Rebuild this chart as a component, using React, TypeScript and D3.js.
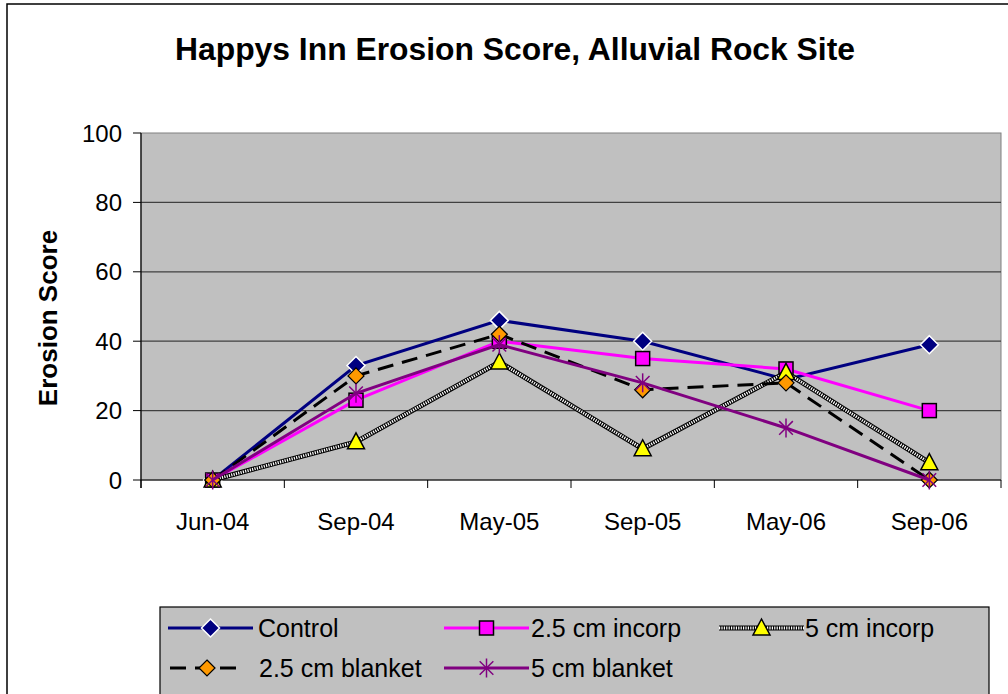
import React from "react";
import * as d3 from "d3";

const categories = ["Jun-04", "Sep-04", "May-05", "Sep-05", "May-06", "Sep-06"];
const control = [0, 33, 46, 40, 29, 39];
const incorp25 = [0, 23, 40, 35, 32, 20];
const incorp5 = [0, 11, 34, 9, 31, 5];
const blanket25 = [0, 30, 42, 26, 28, 0];
const blanket5 = [0, 25, 39, 28, 15, 0];
const yTicks = [0, 20, 40, 60, 80, 100];

const FONT = "'Liberation Sans', Arial, sans-serif";

type Series = { name: string; values: number[]; key: string };
const series: Series[] = [
  { name: "Control", values: control, key: "control" },
  { name: "2.5 cm incorp", values: incorp25, key: "incorp25" },
  { name: "5 cm incorp", values: incorp5, key: "incorp5" },
  { name: "2.5 cm blanket", values: blanket25, key: "blanket25" },
  { name: "5 cm blanket", values: blanket5, key: "blanket5" },
];

function Marker({ k, x, y }: { k: string; x: number; y: number }) {
  if (k === "control") {
    const s = 9;
    return (
      <path d={`M${x},${y - s}L${x + s},${y}L${x},${y + s}L${x - s},${y}Z`} fill="#000080" stroke="#fff" strokeWidth={1.5} />
    );
  }
  if (k === "incorp25") {
    return <rect x={x - 7} y={y - 7} width={14} height={14} fill="#FF00FF" stroke="#000" strokeWidth={1.5} />;
  }
  if (k === "incorp5") {
    return (
      <path d={`M${x},${y - 9}L${x + 8.5},${y + 7}L${x - 8.5},${y + 7}Z`} fill="#FFFF00" stroke="#000" strokeWidth={1.5} />
    );
  }
  if (k === "blanket25") {
    const s = 8;
    return (
      <path d={`M${x},${y - s}L${x + s},${y}L${x},${y + s}L${x - s},${y}Z`} fill="#FF9900" stroke="#000" strokeWidth={1.2} />
    );
  }
  const r = 9.5;
  const d = r * 0.72;
  return (
    <g stroke="#800080" strokeWidth={1.5}>
      <line x1={x} y1={y - r} x2={x} y2={y + r} />
      <line x1={x - d} y1={y - d} x2={x + d} y2={y + d} />
      <line x1={x - d} y1={y + d} x2={x + d} y2={y - d} />
    </g>
  );
}

function SeriesLine({ k, d }: { k: string; d: string }) {
  if (k === "control") return <path d={d} fill="none" stroke="#000080" strokeWidth={3} />;
  if (k === "incorp25") return <path d={d} fill="none" stroke="#FF00FF" strokeWidth={3} />;
  if (k === "incorp5")
    return (
      <g>
        <path d={d} fill="none" stroke="#000" strokeWidth={5} />
        <path d={d} fill="none" stroke="#fff" strokeWidth={3} strokeDasharray="1.2,1.2" />
      </g>
    );
  if (k === "blanket25") return <path d={d} fill="none" stroke="#000" strokeWidth={3} strokeDasharray="16,9" />;
  return <path d={d} fill="none" stroke="#800080" strokeWidth={3} />;
}

export default function App() {
  const W = 1008;
  const H = 694;
  const left = 141;
  const right = 1001;
  const top = 133;
  const bottom = 480;

  const x = d3.scaleBand<string>().domain(categories).range([left, right]).padding(0);
  const y = d3.scaleLinear().domain([0, 100]).range([bottom, top]);
  const cx = (c: string) => (x(c) as number) + x.bandwidth() / 2;

  const lineGen = d3
    .line<number>()
    .x((_, i) => cx(categories[i]))
    .y((v) => y(v));

  const boundaries = d3.range(categories.length + 1).map((i) => left + i * x.bandwidth());

  const legendItems = [
    { k: "control", name: "Control", lx: 168, ly: 628, lw: 85, tx: 258 },
    { k: "incorp25", name: "2.5 cm incorp", lx: 444, ly: 628, lw: 85, tx: 531 },
    { k: "incorp5", name: "5 cm incorp", lx: 719, ly: 628, lw: 85, tx: 805 },
    { k: "blanket25", name: "2.5 cm blanket", lx: 170, ly: 668, lw: 74, tx: 259 },
    { k: "blanket5", name: "5 cm blanket", lx: 444, ly: 668, lw: 85, tx: 531 },
  ];

  return (
    <svg
      width={W}
      height={H}
      style={{ position: "absolute", left: 0, top: 0, background: "#fff" }}
      fontFamily={FONT}
    >
      <rect x={7} y={4} width={W + 20} height={H + 20} fill="#fff" stroke="#000" strokeWidth={1.5} />
      <text x={515} y={60} textAnchor="middle" fontSize={31} fontWeight="bold" fill="#000" textLength={680} lengthAdjust="spacingAndGlyphs">
        Happys Inn Erosion Score, Alluvial Rock Site
      </text>

      <rect x={left} y={top} width={right - left} height={bottom - top} fill="#C0C0C0" stroke="#808080" strokeWidth={1} />
      {yTicks.map((t) => (
        <g key={t}>
          {t > 0 && t < 100 && <line x1={left} x2={right} y1={y(t)} y2={y(t)} stroke="#404040" strokeWidth={1.2} />}
          <line x1={left - 8} x2={left} y1={y(t)} y2={y(t)} stroke="#000" strokeWidth={1} />
          <text x={left - 19} y={y(t) + 8.5} textAnchor="end" fontSize={24} fill="#000">
            {t}
          </text>
        </g>
      ))}
      <line x1={left} x2={left} y1={top} y2={bottom + 8} stroke="#000" strokeWidth={1.2} />
      <line x1={left} x2={right} y1={bottom} y2={bottom} stroke="#000" strokeWidth={1.2} />
      {boundaries.map((b, i) => (
        <line key={i} x1={b} x2={b} y1={bottom} y2={bottom + 8} stroke="#000" strokeWidth={1} />
      ))}
      {categories.map((c) => (
        <text key={c} x={cx(c)} y={530} textAnchor="middle" fontSize={24} fill="#000">
          {c}
        </text>
      ))}
      <text
        transform={`translate(57, ${318}) rotate(-90)`}
        textAnchor="middle"
        fontSize={26}
        fontWeight="bold"
        fill="#000"
      >
        Erosion Score
      </text>

      {series.map((s) => (
        <g key={s.key}>
          <SeriesLine k={s.key} d={lineGen(s.values) as string} />
          {s.values.map((v, i) => (
            <Marker key={i} k={s.key} x={cx(categories[i])} y={y(v)} />
          ))}
        </g>
      ))}

      <rect x={160} y={607} width={829} height={110} fill="#C0C0C0" stroke="#000" strokeWidth={1.2} />
      {legendItems.map((it) => (
        <g key={it.k}>
          <SeriesLine k={it.k} d={`M${it.lx},${it.ly}L${it.lx + it.lw},${it.ly}`} />
          <Marker k={it.k} x={it.lx + it.lw / 2} y={it.ly} />
          <text x={it.tx} y={it.ly + 9} fontSize={25} fill="#000">
            {it.name}
          </text>
        </g>
      ))}
    </svg>
  );
}
